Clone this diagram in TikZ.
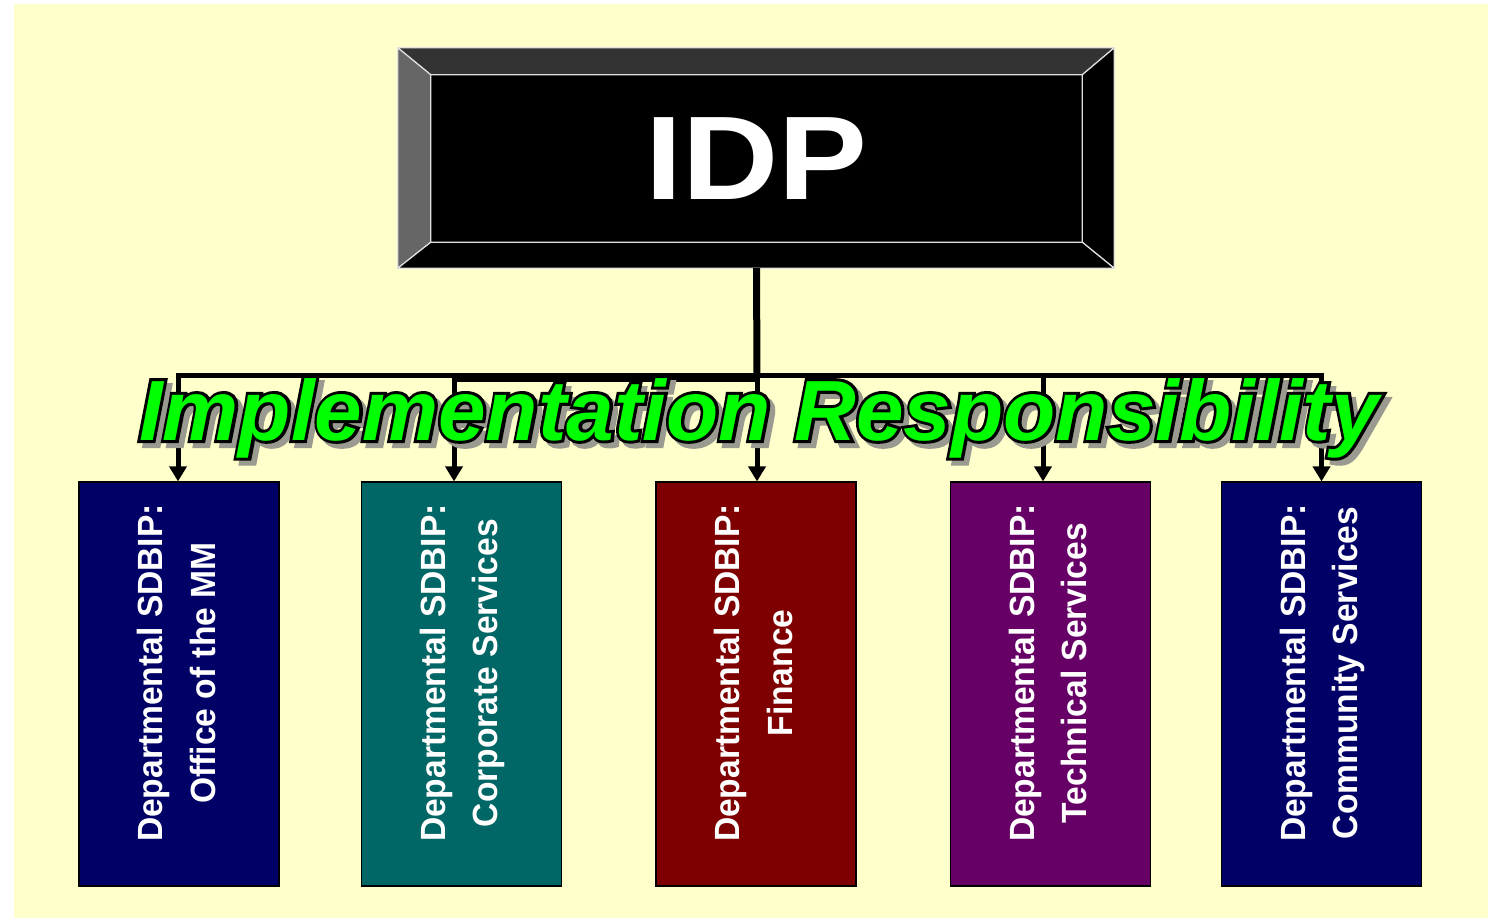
\documentclass[tikz,border=0pt]{standalone}
\usepackage{fontspec}
\setmainfont{Liberation Sans}
\newfontfamily\idpfamily{Liberation Sans}[FakeStretch=1.12]
\newfontfamily\deptfamily{Liberation Sans}[FakeStretch=0.96]
\newfontfamily\rimfamily{Liberation Sans}[FakeBold=7]
\usetikzlibrary{arrows.meta}

\definecolor{paper}{HTML}{FFFFCC}
\definecolor{bevtop}{HTML}{333333}
\definecolor{bevleft}{HTML}{666666}
\definecolor{bevedge}{HTML}{E0E0E0}
\definecolor{mmblue}{HTML}{000066}
\definecolor{corpteal}{HTML}{006666}
\definecolor{finred}{HTML}{7F0000}
\definecolor{techpurple}{HTML}{660066}
\definecolor{respgreen}{HTML}{00FF00}
\definecolor{respshade}{HTML}{9A9A90}

\newcommand{\idpfont}{\idpfamily\bfseries\fontsize{119}{119}\selectfont}
\newcommand{\deptfont}{\deptfamily\bfseries\fontsize{35}{52.5}\selectfont}
\newcommand{\respfont}{\bfseries\itshape\fontsize{85.5}{85.5}\selectfont}

\begin{document}
\begin{tikzpicture}[x=1pt, y=-1pt, >={Triangle[width=17pt,length=15pt]},
  dept/.style={draw=black, line width=1.2pt, minimum width=200pt,
    minimum height=404pt, inner sep=0pt},
  depttext/.style={rotate=90, anchor=north, align=center, text=white,
    font=\deptfont, inner sep=0pt},
  wire/.style={line width=5pt},
  resp/.style={font=\respfont, anchor=base, inner sep=0pt}]
  % page and paper
  \fill[white] (0,0) rectangle (1488,918);
  \fill[paper] (14,4) rectangle (1488,918);

  % IDP block with bevelled frame
  \node[fill=black, minimum width=651pt, minimum height=167pt, inner sep=0pt,
    text=white, font=\idpfont] (idp) at (756.5,158.5) {IDP};
  \coordinate (onw) at ([shift={(-33,-27)}]idp.north west);
  \coordinate (one) at ([shift={(32,-27)}]idp.north east);
  \coordinate (ose) at ([shift={(32,26)}]idp.south east);
  \coordinate (osw) at ([shift={(-33,26)}]idp.south west);
  \begin{scope}[draw=bevedge, line width=1.2pt, line join=round]
    \filldraw[fill=bevtop] (onw) -- (one) -- (idp.north east) -- (idp.north west) -- cycle;
    \filldraw[fill=bevleft] (onw) -- (idp.north west) -- (idp.south west) -- (osw) -- cycle;
    \filldraw[fill=black] (one) -- (ose) -- (idp.south east) -- (idp.north east) -- cycle;
    \filldraw[fill=black] (osw) -- (idp.south west) -- (idp.south east) -- (ose) -- cycle;
  \end{scope}

  % departmental SDBIPs
  \node[dept, fill=mmblue] (mm) at (179,684) {};
  \node[dept, fill=corpteal] (corp) at (461.5,684) {};
  \node[dept, fill=finred] (fin) at (756,684) {};
  \node[dept, fill=techpurple] (tech) at (1050.5,684) {};
  \node[dept, fill=mmblue] (comm) at (1321.5,684) {};

  \node[depttext] (mmtext) at ([shift={(-42,-11)}]mm.center) {Departmental SDBIP:\\Office of the MM};
  \node[depttext] (corptext) at ([shift={(-42,-11)}]corp.center) {Departmental SDBIP:\\Corporate Services};
  \node[depttext] (fintext) at ([shift={(-42,-11)}]fin.center) {Departmental SDBIP:\\Finance};
  \node[depttext] (techtext) at ([shift={(-42,-11)}]tech.center) {Departmental SDBIP:\\Technical Services};
  \node[depttext] (commtext) at ([shift={(-42,-11)}]comm.center) {Departmental SDBIP:\\Community Services};

  % connectors
  \coordinate (base) at ([yshift=-26pt]idp.south);
  \coordinate (bus) at (757,375.5);
  \coordinate (mmin) at ([xshift=-1pt]mm.north);
  \coordinate (corpin) at ([xshift=-7.5pt]corp.north);
  \coordinate (finin) at ([xshift=1pt]fin.north);
  \coordinate (techin) at ([xshift=-7.5pt]tech.north);
  \coordinate (commin) at (comm.north);
  \draw[line width=7pt] (base) -- (bus);
  \draw[wire, line cap=rect] (mmin |- bus) -- (commin |- bus);
  \draw[line width=9pt] ([yshift=-2pt]corpin |- bus) -- ([yshift=-2pt]bus);
  \draw[wire, ->] (mmin |- bus) -- (mmin);
  \draw[wire, ->] (corpin |- bus) -- (corpin);
  \draw[wire, ->] (finin |- bus) -- (finin);
  \draw[wire, ->] (techin |- bus) -- (techin);
  \draw[wire, ->] (commin |- bus) -- (commin);

  % heading over the connectors: shadow, black rim, green face
  \coordinate (resppos) at (759,440);
  \node[resp, text=respshade, font=\rimfamily\respfont] at ([shift={(5,5)}]resppos) {Implementation Responsibility};
  \node[resp, text=black, font=\rimfamily\respfont] at (resppos) {Implementation Responsibility};
  \node[resp, text=respgreen] (resptext) at (resppos) {Implementation Responsibility};
\end{tikzpicture}
\end{document}
